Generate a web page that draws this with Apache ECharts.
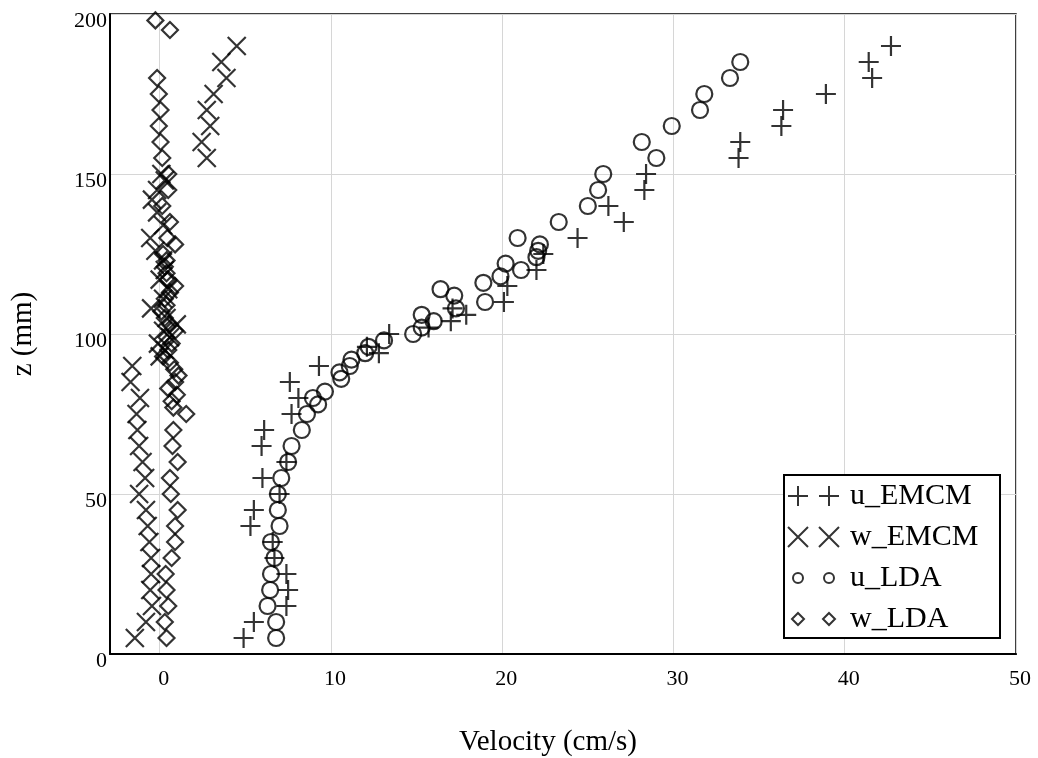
<!DOCTYPE html>
<html>
<head>
<meta charset="utf-8">
<script src="https://cdn.jsdelivr.net/npm/echarts@6/dist/echarts.min.js"></script>
<style>
html,body{margin:0;padding:0;background:#fff;}
#chart{width:1038px;height:758px;}
</style>
</head>
<body>
<div id="chart"></div>
<script>
// ---- data (z in mm, velocity in cm/s) ----
const seriesNames = ['u_EMCM', 'w_EMCM', 'u_LDA', 'w_LDA'];
const xTicks = [0, 10, 20, 30, 40, 50];
const yTicks = [0, 50, 100, 150, 200];

const uEMCM_z = [5,10,15,20,25,30,35,40,45,50,55,60,65,70,75,80,85,90,
  94,96,100,102,104,106,108,
  110,115,120,125,130,135,140,145,150,155,160,165,170,175,180,185,190];
const uEMCM_v = [4.9,5.5,7.4,7.5,7.4,6.7,6.6,5.3,5.5,7.0,6.0,7.4,5.95,6.1,7.7,8.1,7.6,9.3,
  12.8,12.1,13.4,15.7,17.0,17.9,17.1,
  20.1,20.3,22.0,22.4,24.4,27.1,26.2,28.3,28.4,33.8,33.9,36.3,36.4,38.9,41.6,41.4,42.7];

const wEMCM_z = [5,10,15,20,25,30,35,40,45,50,55,60,65,70,75,80,85,90,
  93,95,97,99,101,103,105,108,111,114,117,120,123,126,130,134,138,142,145,148,150,
  155,160,165,170,175,180,185,190];
const wEMCM_v = [-1.45,-0.8,-0.45,-0.55,-0.5,-0.5,-0.6,-0.7,-0.8,-1.2,-0.85,-1.0,-1.2,-1.3,-1.35,-1.15,-1.7,-1.6,
  0.0,0.3,-0.1,0.6,0.2,1.0,0.4,-0.5,0.2,0.5,0.0,0.3,0.2,-0.25,-0.55,0.2,-0.15,-0.45,-0.15,0.3,0.1,
  2.75,2.45,2.95,2.75,3.15,3.9,3.6,4.5];

const uLDA_z = [5,10,15,20,25,30,35,40,45,50,55,60,65,
  70,75,78,80,82,86,88,90,92,94,96,98,100,102,104,106,108,110,112,114,116,118,120,122,124,126,128,130,
  135,140,145,150,155,160,165,170,175,180,185];
const uLDA_v = [6.8,6.8,6.3,6.45,6.5,6.7,6.5,7.0,6.9,6.9,7.1,7.5,7.7,
  8.3,8.6,9.25,8.95,9.65,10.6,10.5,11.1,11.2,12.0,12.2,13.1,14.8,15.3,16.0,15.3,17.3,19.0,17.2,16.4,18.9,19.9,21.1,20.2,22.0,22.1,22.2,20.9,
  23.3,25.0,25.6,25.9,29.0,28.15,29.9,31.55,31.8,33.3,33.9];

const wLDA_z = [5,10,15,20,25,30,35,40,45,50,55,60,65,70,75,
  77,79,81,83,85,87,89,91,
  93,95,97,99,101,103,105,107,109,111,113,115,117,119,121,123,125,128,130,
  135,140,145,150,155,160,165,170,175,180,195,198];
const wLDA_v = [0.4,0.3,0.5,0.4,0.35,0.7,0.9,0.9,1.05,0.65,0.6,1.05,0.75,0.8,1.55,
  0.8,0.7,1.0,0.5,0.9,1.1,0.85,0.6,
  0.2,0.5,0.7,0.4,0.9,0.6,0.3,0.1,0.4,0.3,0.6,0.9,0.5,0.4,0.3,0.4,0.2,0.9,0.45,
  0.6,0.15,0.5,0.5,0.15,0.05,-0.05,0.05,-0.05,-0.15,0.6,-0.25];

function pairs(vs, zs) { return vs.map((v, i) => [v, zs[i]]); }

// ---- styling ----
const FONT = 'Liberation Serif';
const PLUS = 'path://M10,0L10,20M0,10L20,10';
const CROSS = 'path://M0,0L20,20M20,0L0,20';
const SMALL_CIRCLE = 'path://M0,0M20,20M15,10A5,5,0,1,1,5,10A5,5,0,1,1,15,10Z';
const SMALL_DIAMOND = 'path://M0,0M20,20M10,4L16,10L10,16L4,10Z';
const strokeStyle = {color: 'transparent', borderColor: '#000', borderWidth: 2.2};
const legendStroke = {color: 'transparent', borderColor: '#000', borderWidth: 2};

const legendIcons = [PLUS, CROSS, SMALL_CIRCLE, SMALL_DIAMOND];
function legendData() {
  return seriesNames.map((n, i) => ({name: n, icon: legendIcons[i], itemStyle: legendStroke}));
}

const chart = echarts.init(document.getElementById('chart'));
chart.setOption({
  animation: false,
  backgroundColor: '#fff',
  grid: {left: 110, right: 22, top: 14, bottom: 104, show: true, containLabel: false,
    outerBoundsMode: 'none',
    borderColor: '#000', borderWidth: 1.5, backgroundColor: 'transparent'},
  xAxis: {
    type: 'value', min: -2.9, max: 50, splitNumber: 5,
    name: 'Velocity (cm/s)', nameLocation: 'middle', nameGap: 74,
    nameTextStyle: {fontFamily: FONT, fontSize: 29, color: '#000', padding: [0, 30, 0, 0]},
    axisLine: {show: true, onZero: false, lineStyle: {color: '#000', width: 2}},
    axisTick: {show: false},
    axisLabel: {fontFamily: FONT, fontSize: 22, color: '#000', margin: 14,
      formatter: v => (xTicks.indexOf(v) >= 0 ? '{x|' + v + '}' : ''),
      rich: {x: {fontFamily: FONT, fontSize: 22, color: '#000', padding: [0, 0, 0, 8]}}},
    splitLine: {show: true, lineStyle: {color: '#d6d6d6', width: 1}}
  },
  yAxis: {
    type: 'value', min: yTicks[0], max: yTicks[yTicks.length - 1], interval: 50,
    name: 'z (mm)', nameLocation: 'middle', nameGap: 72, nameRotate: 90,
    nameTextStyle: {fontFamily: FONT, fontSize: 29, color: '#000'},
    axisLine: {show: true, onZero: false, lineStyle: {color: '#000', width: 2}},
    axisTick: {show: false},
    axisLabel: {fontFamily: FONT, fontSize: 22, color: '#000', margin: 3,
      formatter: v => '{y|' + v + '}',
      rich: {y: {fontFamily: FONT, fontSize: 22, color: '#000', padding: [14, 0, 0, 0]}}},
    splitLine: {show: true, lineStyle: {color: '#d6d6d6', width: 1}}
  },
  graphic: [{
    type: 'rect', z: 3, left: 783, top: 474,
    shape: {width: 216, height: 163},
    style: {fill: '#fff', stroke: '#000', lineWidth: 2}
  }],
  legend: [{
    orient: 'vertical', left: 782, top: 476, z: 5,
    itemWidth: 20, itemHeight: 20, itemGap: 11,
    data: legendData(), formatter: () => ' ',
    textStyle: {fontFamily: FONT, fontSize: 30, lineHeight: 30, color: '#000'},
    selectedMode: false
  }, {
    orient: 'vertical', left: 813, top: 476, z: 5,
    itemWidth: 20, itemHeight: 20, itemGap: 11,
    data: legendData(),
    textStyle: {fontFamily: FONT, fontSize: 30, lineHeight: 30, color: '#000', padding: [0, 0, 0, 6]},
    selectedMode: false
  }],
  series: [
    {name: 'u_EMCM', type: 'scatter', symbol: PLUS, symbolSize: 20, itemStyle: strokeStyle,
      data: pairs(uEMCM_v, uEMCM_z)},
    {name: 'w_EMCM', type: 'scatter', symbol: CROSS, symbolSize: 18, itemStyle: strokeStyle,
      data: pairs(wEMCM_v, wEMCM_z)},
    {name: 'u_LDA', type: 'scatter', symbol: 'circle', symbolSize: 16, itemStyle: strokeStyle,
      data: pairs(uLDA_v, uLDA_z)},
    {name: 'w_LDA', type: 'scatter', symbol: 'diamond', symbolSize: 16, itemStyle: strokeStyle,
      data: pairs(wLDA_v, wLDA_z)}
  ]
});
</script>
</body>
</html>
